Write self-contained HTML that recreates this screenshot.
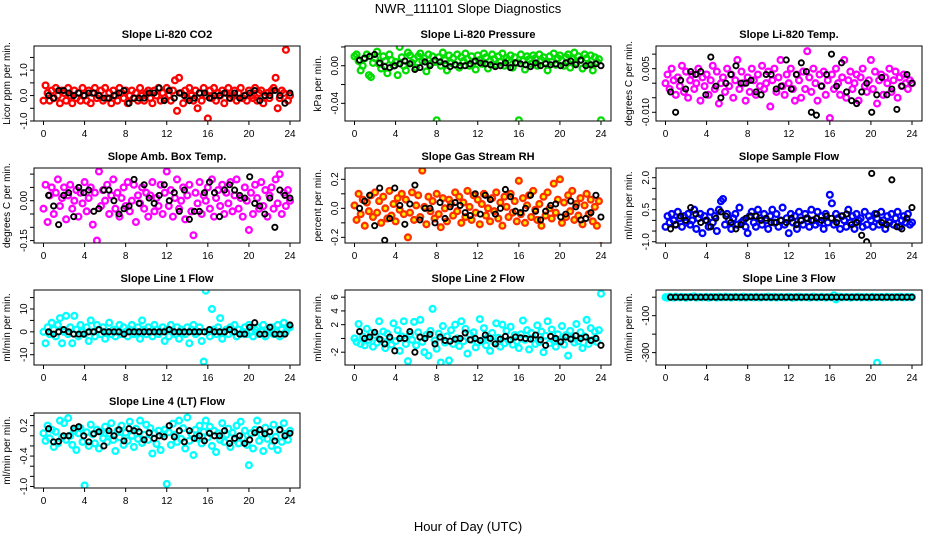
<!DOCTYPE html>
<html><head><meta charset="utf-8"><style>
html,body{margin:0;padding:0;background:#fff}
svg{display:block;font-family:"Liberation Sans",sans-serif}
</style></head><body>
<svg id="chart" width="936" height="540" viewBox="0 0 936 540">
<text x="468" y="13" text-anchor="middle" font-size="13">NWR_111101  Slope Diagnostics</text>
<text x="468" y="531" text-anchor="middle" font-size="13">Hour of Day (UTC)</text>
</svg>
<script>
const xTicks=[0,4,8,12,16,20,24];
const co2Vals=[-2,4,1,-2,2,-1,3,0,-3,2,1,-2,3,0,-3,2,-1,1,-2,3,0,-2,2,-3,1,3,-1,0,2,-2,3,-1,1,-3,2,0,-2,3,1,-1,2,-3,0,2,-1,1,-2,3,0,-2,1,2,-1,-3,2,0,3,-2,1,-1,3,0,-2,2,6,-6,7,1,-3,2,-1,3,0,-2,2,-5,1,-2,3,0,-9,2,-1,3,-2,1,0,2,-3,1,3,-1,0,2,-2,1,3,-1,0,-2,2,0,-1,3,-2,1,2,-3,0,1,-1,2,3,7,-5,-1,2,1,18,-2,0];
const co2Black=[0,-1,2,2,1,0,1,0,1,1,0,-1,-1,0,1,2,-3,-1,-1,-1,1,1,3,-2,2,-1,1,0,-2,-1,1,1,-1,0,0,1,-1,1,-1,0,1,2,-2,0,0,2,0,-3,1];
const presVals=[10,12,5,-5,0,8,12,-10,-12,3,8,15,2,-3,10,5,-8,12,6,0,4,-10,20,9,0,-5,14,11,3,7,-2,10,13,5,8,-6,12,2,10,4,-58,9,0,14,6,-5,11,3,8,1,12,-2,9,5,13,7,0,10,4,-4,11,6,2,13,9,-3,5,12,7,1,10,4,13,0,8,6,11,-2,9,3,-58,12,5,-4,10,7,2,11,8,0,12,6,9,3,-5,10,4,13,1,8,11,5,0,9,12,-2,7,14,3,10,6,-3,12,8,2,11,-5,9,4,7,-58];
const presBlack=[6,8,10,12,3,-1,-2,0,2,5,2,-4,-2,4,0,6,4,2,-1,1,0,0,2,5,3,2,1,-1,0,3,-2,3,2,1,-1,3,0,2,1,2,0,3,5,1,6,0,1,2,0];
const tempVals=[0,3,-2,5,1,-4,2,-1,6,-3,4,-5,1,3,-2,0,5,-6,2,-1,3,-4,1,6,-2,4,-7,0,2,-3,5,-1,3,-5,1,8,-2,4,0,-6,2,-3,5,1,-4,3,-1,6,-2,0,4,-8,1,5,-3,2,8,-1,-4,3,0,5,-2,-6,3,1,-5,4,-2,11,2,-3,5,0,-6,3,-1,4,-4,1,-12,3,-2,5,0,-4,2,8,-5,1,4,-2,0,3,-6,2,5,-1,-3,1,8,-2,4,-7,1,3,-4,2,0,5,-3,1,4,-5,2,-1,3,0,-2,1,0];
const tempBlack=[-3,-10,1,-2,4,3,4,-4,9,-1,-5,0,3,6,0,0,1,-3,-4,3,3,-2,-1,8,-2,3,7,4,-10,-11,-1,3,10,-1,7,-3,-6,-7,-3,0,-10,-4,2,-4,-2,-9,-1,3,0];
const boxVals=[-3,6,-8,2,5,-5,3,8,-2,1,5,-7,2,6,-3,0,4,-6,3,-1,7,-4,1,5,-9,3,-15,11,-2,4,0,6,-5,2,8,-3,3,-6,1,5,-2,7,-4,0,6,-8,2,-1,5,-3,3,-6,2,7,-4,1,-2,6,-5,3,11,-2,4,-6,1,8,-3,0,5,-7,2,6,-4,-13,3,-1,7,-5,2,0,5,-3,8,-6,1,4,-2,6,-5,3,-1,7,-4,2,8,-3,1,-6,5,0,-11,3,-5,6,1,-3,7,-2,4,-6,2,5,-3,8,-1,10,-5,3,-2,4,0];
const boxBlack=[2,-2,-9,2,3,-6,5,3,4,-4,-3,4,4,0,-5,-3,-2,8,-1,6,1,-1,2,6,0,3,-4,4,-7,-4,-4,3,7,3,-6,4,6,4,2,1,9,-1,-2,-5,1,-10,4,2,1];
const rhVals=[2,-8,10,-4,6,-12,4,-2,9,-6,11,-3,5,-10,8,0,-7,12,-5,3,-9,7,-1,10,-4,6,-20,-3,11,-8,2,9,-6,26,1,-11,8,-2,5,-7,10,-4,-13,7,0,-9,6,3,-5,11,-2,8,-10,4,-6,12,1,-8,9,-3,6,-11,3,10,-5,0,-9,7,-2,11,-7,4,-12,8,1,-6,10,-3,5,-9,19,-4,7,-10,2,9,-6,12,-1,-8,3,-12,8,-5,11,0,-7,17,-3,6,20,-10,4,-6,9,-2,12,-8,3,-5,7,-11,2,10,-4,6,-9,1,-12,5,-26];
const rhBlack=[0,5,9,-12,14,-22,-7,14,2,-11,3,16,-8,0,0,-10,4,-7,1,4,2,-3,-5,10,-4,9,6,-4,0,13,8,-2,-3,0,9,-2,-8,-2,2,3,-6,-4,5,1,-8,-7,-3,9,-6];
const flowVals=[-3,2,-1,3,0,-2,4,1,-3,2,-1,3,-2,0,5,-4,1,3,-6,2,0,-3,4,-1,2,-5,5,9,10,-2,3,0,-4,1,3,-2,6,-1,0,-3,-6,2,4,-1,-3,5,1,-2,3,0,-4,2,5,-1,3,-3,0,6,-2,1,-6,3,-1,2,-4,4,0,-2,3,1,-3,5,0,-2,4,-1,2,-4,3,-1,12,8,-2,3,1,-4,2,0,-3,5,-1,2,-4,3,0,1,-3,4,-2,2,0,-3,3,1,-2,4,0,-4,2,-1,3,-2,1,4,-3,0,2,-1,3,-2,-1];
const flowBlack=[-4,-2,2,0,6,3,-1,0,-3,1,4,2,-1,-4,-2,1,2,2,0,1,-1,-1,0,-1,1,-2,0,1,0,1,0,2,1,-1,2,3,-2,-1,-7,-10,22,3,-1,-2,19,-3,-4,1,6];
const l1Vals=[0,-5,2,-1,4,1,-2,3,6,-5,0,7,-1,2,-5,7,1,-2,3,0,-1,2,-4,5,0,-2,3,1,-1,2,-3,0,4,-1,1,-2,0,3,-1,2,0,-2,1,3,-1,0,2,-3,5,1,-1,2,0,-2,3,1,-1,0,2,-4,1,-2,3,0,-1,2,-3,1,0,-1,2,-5,1,3,-1,0,2,-4,-13,18,0,-2,10,1,-1,2,6,-3,0,1,-1,2,0,3,-2,1,-1,0,2,-1,3,0,-2,1,2,-1,0,3,-2,1,0,2,-1,0,3,-2,1,4,0,2,2];
const l1Black=[0,-1,0,1,0,-1,-1,-1,0,0,1,0,0,0,0,-1,0,0,0,0,0,0,0,0,1,0,0,0,0,0,0,0,1,0,0,0,1,0,-1,-1,2,4,-1,-1,2,-1,-1,-1,3];
const l2Vals=[0,-5,21,-8,3,-10,14,-2,8,-12,5,-6,25,-3,10,-14,7,0,-9,22,-4,12,-18,3,25,-8,-33,6,-2,24,-10,9,27,-5,-20,5,-25,11,43,-3,-15,7,-35,18,-6,3,-32,12,-8,20,0,-11,25,-4,14,-22,6,-2,9,-13,-6,28,-3,15,-10,2,-18,8,-5,22,1,-12,20,-7,11,-3,17,-9,5,-4,-14,6,26,-2,12,-16,8,0,-8,19,-5,10,-20,4,25,-7,13,-3,-12,6,-2,18,-9,5,-25,11,0,-6,21,-4,9,-14,3,27,-8,15,-2,10,-5,12,65];
const l2Black=[10,0,2,9,-1,-8,2,-18,0,0,10,-20,2,0,6,-8,2,-3,-4,-1,0,8,-2,0,-3,5,0,-8,-1,3,-2,2,1,0,-1,5,-2,-10,3,0,-5,2,-1,4,0,2,-3,0,-10];
const l3Vals=[0,-3,2,0,-2,3,0,-1,2,0,-3,1,0,2,4,-2,0,1,-1,0,2,-3,0,1,0,-2,2,0,-1,3,0,1,-2,0,2,0,-1,0,3,-2,0,1,0,-1,2,0,-2,0,1,0,3,-1,0,2,-2,0,1,0,-1,0,2,0,-3,1,0,2,-1,0,0,1,-2,0,3,0,-1,0,2,0,-2,1,0,0,10,-12,0,2,-1,0,1,0,-2,0,1,0,2,-1,0,0,1,-2,0,2,0,-355,0,1,-1,0,2,0,-1,0,1,0,2,0,-1,0,1,0,0];
const l3Black=[0,0,0,0,0,0,0,0,0,0,0,0,0,0,0,0,0,0,0,0,0,0,0,0,0,0,0,0,0,0,0,0,0,0,0,0,0,0,0,0,0,0,0,0,0,0,0,0,0];
const l4Vals=[5,-10,20,-5,12,-22,8,-15,30,-3,25,-8,35,0,-18,10,-28,5,15,-12,-98,7,-20,22,3,-15,12,-25,8,-5,18,-12,4,25,-8,-30,10,-3,20,-18,6,-10,28,0,-22,14,-6,30,-14,2,22,-8,15,-35,5,-16,10,-28,3,12,-95,7,-18,24,2,-12,30,-6,15,-25,36,-10,4,-38,12,-5,20,-15,8,30,-3,18,-20,10,-32,5,-8,25,-12,2,14,-22,6,-8,20,-15,28,-4,10,-18,-58,5,-25,12,30,-10,3,-30,16,-6,8,-20,22,-2,-28,12,-12,25,4,-8,10];
const l4Black=[14,-12,-11,0,0,15,18,0,-12,4,8,-20,10,0,12,-10,14,10,8,-8,6,-5,0,-2,20,-2,10,-12,10,-5,0,-10,5,0,0,10,-15,-5,0,-15,-8,6,12,4,8,-10,12,0,5];

const panels=[
 {name:'co2',title:'Slope Li-820 CO2',yl:'Licor ppm per min.',col:0,row:0,ymin:-1.0,ymax:1.95,sc:0.1,vals:co2Vals,blk:co2Black,stroke:'#ff0000',fill:'none',ticks:[-1,-0.5,0,0.5,1,1.5],labs:['-1.0','','0.0','','1.0','']},
 {name:'pressure',title:'Slope Li-820 Pressure',yl:'kPa per min.',col:1,row:0,ymin:-0.0588,ymax:0.021,sc:0.001,vals:presVals,blk:presBlack,stroke:'#00dd00',fill:'none',ticks:[-0.04,-0.02,0,0.02],labs:['-0.04','','0.00','']},
 {name:'temp',title:'Slope Li-820 Temp.',yl:'degrees C per min.',col:2,row:0,ymin:-0.013,ymax:0.0128,sc:0.001,vals:tempVals,blk:tempBlack,stroke:'#ff00ff',fill:'none',ticks:[-0.01,-0.005,0,0.005,0.01],labs:['-0.010','','','0.005','']},
 {name:'box-temp',title:'Slope Amb. Box Temp.',yl:'degrees C per min.',col:0,row:1,ymin:-0.159,ymax:0.123,sc:0.01,vals:boxVals,blk:boxBlack,stroke:'#ff00ff',fill:'none',ticks:[-0.15,-0.1,-0.05,0,0.05,0.1],labs:['-0.15','','','0.00','','']},
 {name:'rh',title:'Slope Gas Stream RH',yl:'percent per min.',col:1,row:1,ymin:-0.239,ymax:0.278,sc:0.01,vals:rhVals,blk:rhBlack,stroke:'#ff3000',fill:'#ffee00',ticks:[-0.2,-0.1,0,0.1,0.2],labs:['-0.2','','0.0','','0.2']},
 {name:'sample-flow',title:'Slope Sample Flow',yl:'ml/min per min.',col:2,row:1,ymin:-1.06,ymax:2.455,sc:0.1,vals:flowVals,blk:flowBlack,stroke:'#0000ff',fill:'none',ticks:[-1,-0.5,0,0.5,1,1.5,2],labs:['-1.0','','','0.5','','','2.0']},
 {name:'line1',title:'Slope Line 1 Flow',yl:'ml/min per min.',col:0,row:2,ymin:-14.5,ymax:18.3,sc:1,vals:l1Vals,blk:l1Black,stroke:'#00ffff',fill:'none',ticks:[-10,-5,0,5,10,15],labs:['-10','','0','','10','']},
 {name:'line2',title:'Slope Line 2 Flow',yl:'ml/min per min.',col:1,row:2,ymin:-3.86,ymax:7.04,sc:0.1,vals:l2Vals,blk:l2Black,stroke:'#00ffff',fill:'none',ticks:[-2,0,2,4,6],labs:['-2','','2','4','6']},
 {name:'line3',title:'Slope Line 3 Flow',yl:'ml/min per min.',col:2,row:2,ymin:-367,ymax:39,sc:1,vals:l3Vals,blk:l3Black,stroke:'#00ffff',fill:'none',ticks:[-300,-200,-100,0],labs:['-300','','-100','']},
 {name:'line4',title:'Slope Line 4 (LT) Flow',yl:'ml/min per min.',col:0,row:3,ymin:-1.03,ymax:0.45,sc:0.01,vals:l4Vals,blk:l4Black,stroke:'#00ffff',fill:'none',ticks:[-1,-0.8,-0.6,-0.4,-0.2,0,0.2,0.4],labs:['-1.0','','','-0.4','','','0.2','']}
];
const NS='http://www.w3.org/2000/svg';
const svg=document.getElementById('chart');
const LEFTS=[34,345,656],TOPS=[46,168,290,413],W=266,H=75;
function mk(tag,attrs,parent){const e=document.createElementNS(NS,tag);for(const k in attrs)e.setAttribute(k,attrs[k]);parent.appendChild(e);return e;}
panels.forEach(p=>{
 const L=LEFTS[p.col],T=TOPS[p.row];
 const g=mk('g',{},svg);
 
 
 const xs=h=>L+9.5+h/24*246.5;
 const ys=v=>T+H-(v-p.ymin)/(p.ymax-p.ymin)*H;
 const clip=mk('clipPath',{id:'c'+p.name},g);
 mk('rect',{x:L,y:T,width:W,height:H},clip);
 const pts=mk('g',{'clip-path':'url(#c'+p.name+')'},g);
 
 
 p.vals.forEach((v,i)=>{
  const c=mk('circle',{cx:xs(i*24/(p.vals.length-1)),cy:ys(v*p.sc),r:2.9,fill:p.fill,stroke:p.stroke,'stroke-width':2.3},pts);
  
  
 });
 p.blk.forEach((v,i)=>{
  const c=mk('circle',{cx:xs((i+0.5)*23.5/(p.blk.length-1)+0.25),cy:ys(v*p.sc),r:2.6,fill:'none',stroke:'#000','stroke-width':1.9},pts);
  
  
 });
 const box=mk('rect',{x:L,y:T,width:W,height:H,fill:'none',stroke:'#000','stroke-width':1},g);
 
 
 const t=mk('text',{x:L+W/2,y:T-8,'text-anchor':'middle','font-size':11,'font-weight':'bold'},g);
 t.textContent=p.title;
 
 
 xTicks.forEach(h=>{
  mk('line',{x1:xs(h),x2:xs(h),y1:T+H,y2:T+H+4,stroke:'#000'},g);
  const lt=mk('text',{x:xs(h),y:T+H+16,'text-anchor':'middle','font-size':10},g);
  lt.textContent=h;
  
  
 });
 p.ticks.forEach((v,i)=>{
  const y=ys(v);
  mk('line',{x1:L-4,x2:L,y1:y,y2:y,stroke:'#000'},g);
  if(p.labs[i]){
   const lt=mk('text',{x:L-7,y:y,'text-anchor':'middle','font-size':10,transform:'rotate(-90 '+(L-7)+' '+y+')'},g);
   lt.textContent=p.labs[i];
   
   
  }
 });
 const yt=mk('text',{x:L-24,y:T+H/2,'text-anchor':'middle','font-size':10,transform:'rotate(-90 '+(L-24)+' '+(T+H/2)+')'},g);
 yt.textContent=p.yl;
 
 
});
</script>
</body></html>
